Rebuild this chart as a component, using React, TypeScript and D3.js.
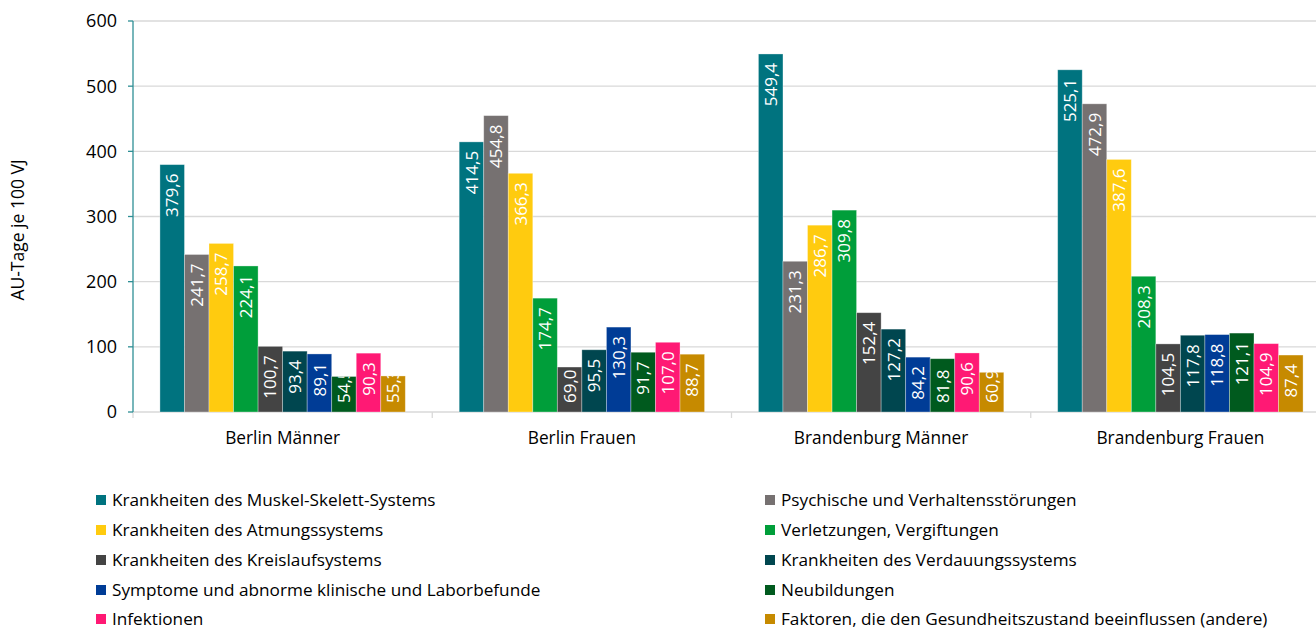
import React from "react";
import * as d3 from "d3";

const categories = ["Berlin Männer", "Berlin Frauen", "Brandenburg Männer", "Brandenburg Frauen"];

const seriesNames = [
  "Krankheiten des Muskel-Skelett-Systems",
  "Psychische und Verhaltensstörungen",
  "Krankheiten des Atmungssystems",
  "Verletzungen, Vergiftungen",
  "Krankheiten des Kreislaufsystems",
  "Krankheiten des Verdauungssystems",
  "Symptome und abnorme klinische und Laborbefunde",
  "Neubildungen",
  "Infektionen",
  "Faktoren, die den Gesundheitszustand beeinflussen (andere)",
];

const seriesColors = [
  "#00737F",
  "#767171",
  "#FFCB0F",
  "#009E3A",
  "#444444",
  "#00464F",
  "#003C96",
  "#005A1E",
  "#FF1974",
  "#C68A00",
];

const muskelSkelett = [379.6, 414.5, 549.4, 525.1];
const psychische = [241.7, 454.8, 231.3, 472.9];
const atmung = [258.7, 366.3, 286.7, 387.6];
const verletzungen = [224.1, 174.7, 309.8, 208.3];
const kreislauf = [100.7, 69.0, 152.4, 104.5];
const verdauung = [93.4, 95.5, 127.2, 117.8];
const symptome = [89.1, 130.3, 84.2, 118.8];
const neubildungen = [54.5, 91.7, 81.8, 121.1];
const infektionen = [90.3, 107.0, 90.6, 104.9];
const faktoren = [55.3, 88.7, 60.9, 87.4];

const seriesValues = [
  muskelSkelett,
  psychische,
  atmung,
  verletzungen,
  kreislauf,
  verdauung,
  symptome,
  neubildungen,
  infektionen,
  faktoren,
];

const yTicks = [0, 100, 200, 300, 400, 500, 600];
const yTitle = "AU-Tage je 100 VJ";

const W = 1316;
const H = 630;
const FONT = "'Open Sans', sans-serif";

export default function App() {
  const plotLeft = 133;
  const plotRight = 1330;
  const plotTop = 21;
  const plotBottom = 412;

  const x = d3.scaleBand<string>().domain(categories).range([plotLeft, plotRight]).padding(0);
  const y = d3.scaleLinear().domain([0, 600]).range([plotBottom, plotTop]);
  const groupWidth = x.bandwidth() * 0.82;
  const inner = d3
    .scaleBand<number>()
    .domain(d3.range(seriesNames.length))
    .range([(x.bandwidth() - groupWidth) / 2, (x.bandwidth() + groupWidth) / 2])
    .padding(0);

  const fmt = (v: number) => v.toFixed(1).replace(".", ",");
  const labelSize = 17;
  const pad = 9;

  const bars: any[] = [];
  categories.forEach((c, ci) => {
    seriesValues.forEach((vals, si) => {
      const v = vals[ci];
      const bx = (x(c) as number) + (inner(si) as number);
      const bw = inner.bandwidth();
      const top = y(v);
      const h = plotBottom - top;
      const text = fmt(v);
      const estLen = text.length * labelSize * 0.54;
      bars.push({ key: `${ci}-${si}`, bx, bw, top, h, text, color: seriesColors[si], fits: estLen + 2 * pad <= h });
    });
  });

  const legendRows = [500, 530, 560, 590, 619];

  return (
    <svg
      width={W}
      height={H}
      style={{ position: "absolute", left: 0, top: 0, background: "#fff" }}
      fontFamily={FONT}
    >
      <defs>
        {bars.map((b) => (
          <clipPath id={`clip-${b.key}`} key={b.key}>
            <rect x={b.bx} y={b.top} width={b.bw} height={b.h} />
          </clipPath>
        ))}
      </defs>

      {/* gridlines */}
      {yTicks.slice(1).map((t) => (
        <line key={t} x1={plotLeft} x2={W} y1={y(t)} y2={y(t)} stroke="#D9D9D9" strokeWidth={1.3} />
      ))}

      {/* x axis */}
      <line x1={plotLeft} x2={W} y1={plotBottom} y2={plotBottom} stroke="#D9D9D9" strokeWidth={1.3} />
      {categories.map((c, i) => (
        <line
          key={`xt${i}`}
          x1={x(c) as number}
          x2={x(c) as number}
          y1={plotBottom}
          y2={plotBottom + 6}
          stroke="#D9D9D9"
          strokeWidth={1.3}
        />
      ))}

      {/* bars */}
      {bars.map((b) => (
        <rect
          key={`r${b.key}`}
          x={b.bx}
          y={b.top}
          width={b.bw}
          height={b.h}
          fill={b.color}
          stroke="#ffffff"
          strokeOpacity={0.4}
          strokeWidth={0.8}
        />
      ))}

      {/* bar labels */}
      {bars.map((b) => {
        const cx = b.bx + b.bw / 2;
        const ty = b.fits ? b.top + pad : plotBottom - pad;
        return (
          <g key={`l${b.key}`} clipPath={`url(#clip-${b.key})`}>
            <text
              transform={`translate(${cx},${ty}) rotate(-90)`}
              textAnchor={b.fits ? "end" : "start"}
              dy="0.36em"
              fontSize={labelSize}
              fill="#ffffff"
            >
              {b.text}
            </text>
          </g>
        );
      })}

      {/* y axis */}
      <line x1={plotLeft} x2={plotLeft} y1={plotTop} y2={plotBottom} stroke="#2E8F95" strokeWidth={1.3} />
      {yTicks.map((t) => (
        <g key={`yt${t}`}>
          <line x1={plotLeft - 5} x2={plotLeft} y1={y(t)} y2={y(t)} stroke="#2E8F95" strokeWidth={1.3} />
          <text x={117} y={y(t)} dy="0.36em" textAnchor="end" fontSize={18} fill="#000">
            {t}
          </text>
        </g>
      ))}

      <text
        transform={`translate(24,230) rotate(-90)`}
        textAnchor="middle"
        fontSize={17.5}
        fill="#000"
      >
        {yTitle}
      </text>

      {/* category labels */}
      {categories.map((c) => (
        <text
          key={`cl${c}`}
          x={(x(c) as number) + x.bandwidth() / 2}
          y={438}
          dy="0.36em"
          textAnchor="middle"
          fontSize={17.3}
          fill="#000"
        >
          {c}
        </text>
      ))}

      {/* legend */}
      {seriesNames.map((n, i) => {
        const col = i % 2;
        const row = Math.floor(i / 2);
        const lx = col === 0 ? 96 : 765;
        const ly = legendRows[row];
        return (
          <g key={`lg${i}`}>
            <rect x={lx} y={ly - 5} width={10} height={10} fill={seriesColors[i]} />
            <text x={lx + 16} y={ly} dy="0.34em" fontSize={17.2} fill="#000">
              {n}
            </text>
          </g>
        );
      })}
    </svg>
  );
}
